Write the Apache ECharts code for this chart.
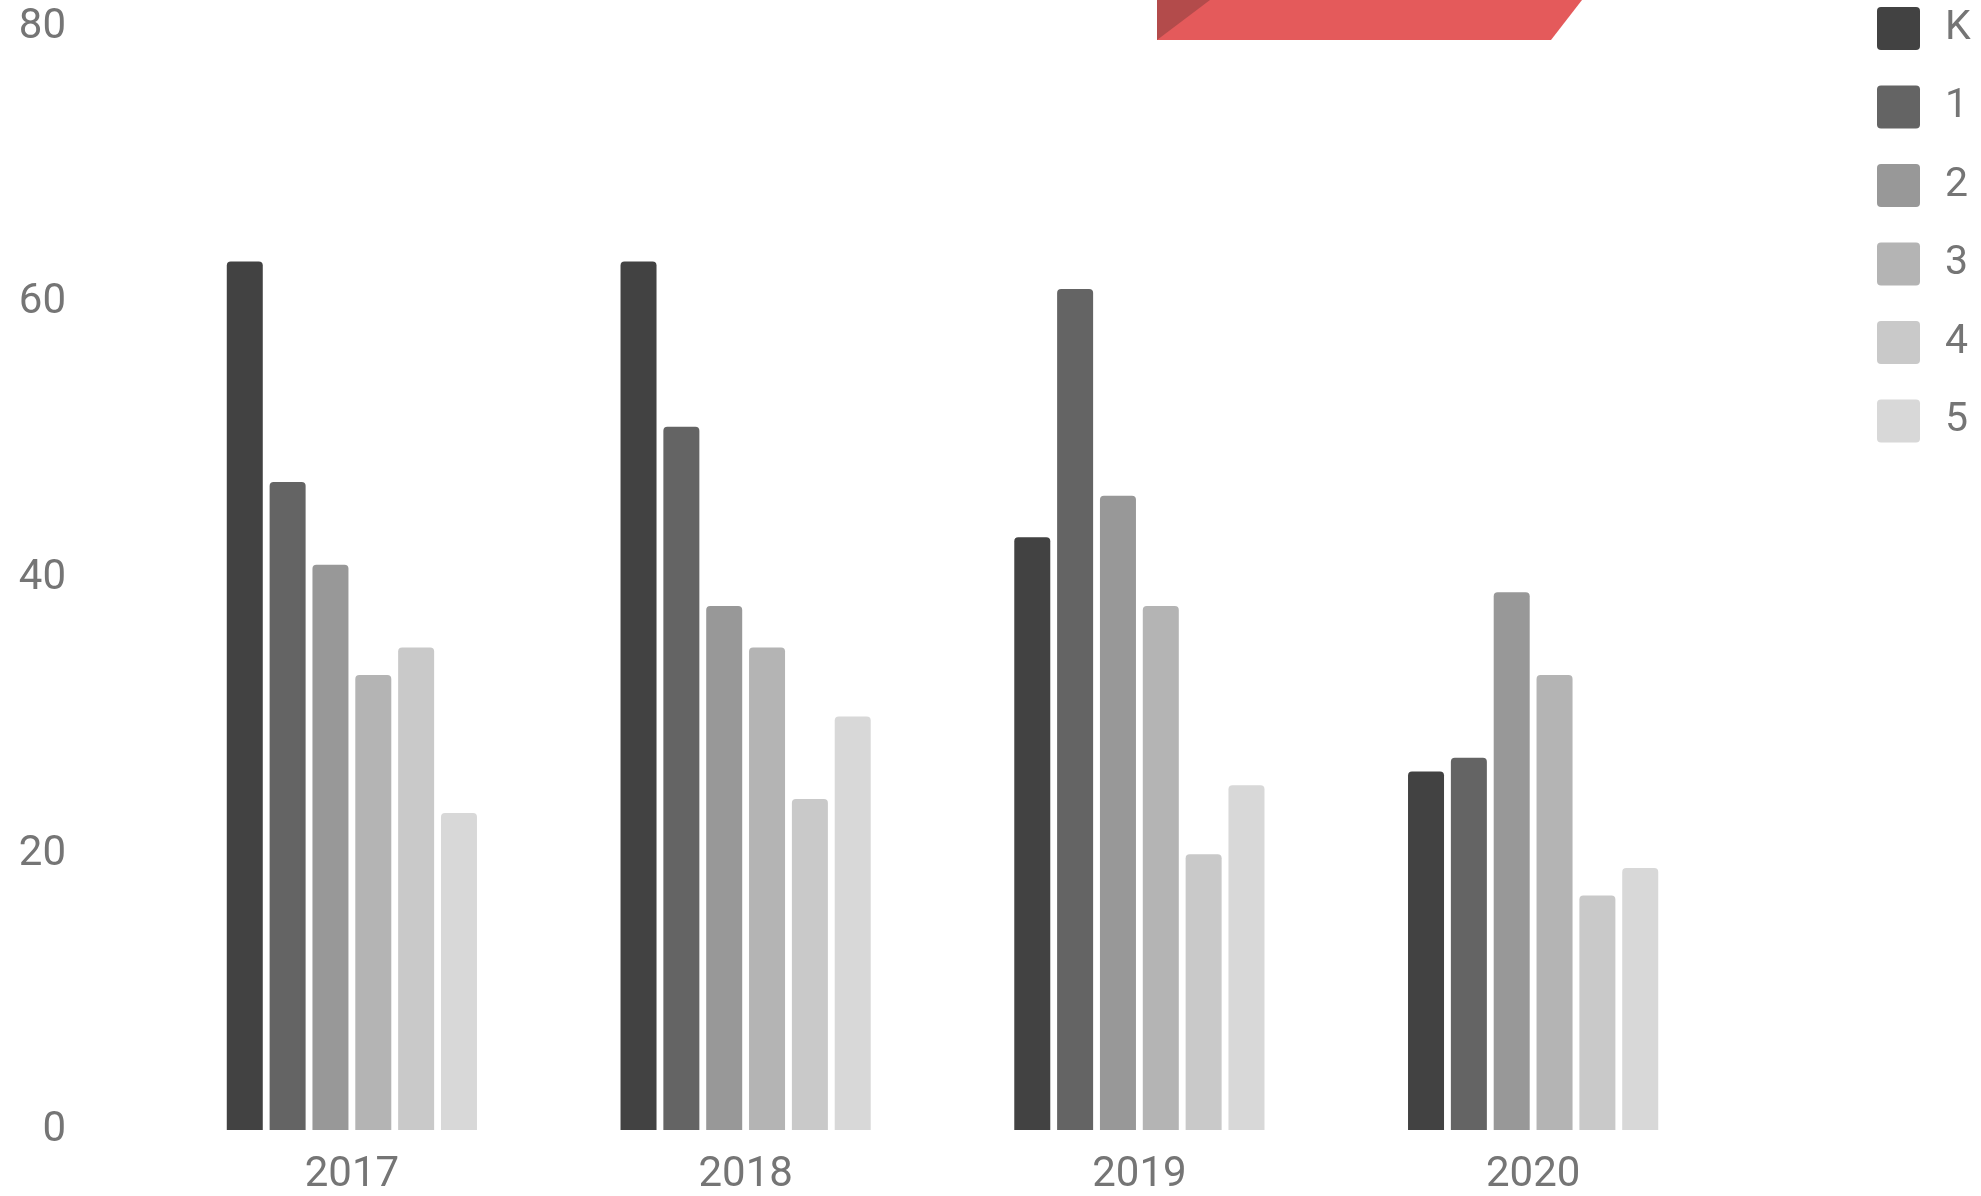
<!DOCTYPE html>
<html>
<head>
<meta charset="utf-8">
<style>
  html, body { margin: 0; padding: 0; background: #ffffff; }
  #chart { width: 1981px; height: 1196px; }
</style>
<script src="https://cdn.jsdelivr.net/npm/echarts@6/dist/echarts.min.js"></script>
</head>
<body>
<div id="chart"></div>
<script>
const categories = ['2017', '2018', '2019', '2020'];
const seriesNames = ['K', '1', '2', '3', '4', '5'];
const gradeK = [63, 63, 43, 26];
const grade1 = [47, 51, 61, 27];
const grade2 = [41, 38, 46, 39];
const grade3 = [33, 35, 38, 33];
const grade4 = [35, 24, 20, 17];
const grade5 = [23, 30, 25, 19];
const yTicks = [0, 20, 40, 60, 80];

const seriesValues = [gradeK, grade1, grade2, grade3, grade4, grade5];
const colors = ['#424242', '#646464', '#989898', '#b4b4b4', '#c9c9c9', '#d8d8d8'];

const chart = echarts.init(document.getElementById('chart'), null, { renderer: 'canvas' });

const roundSquare = 'path://M4,0 H39 A4,4 0 0 1 43,4 V39 A4,4 0 0 1 39,43 H4 A4,4 0 0 1 0,39 V4 A4,4 0 0 1 4,0 Z';

const option = {
  animation: false,
  backgroundColor: '#ffffff',
  color: colors,
  textStyle: { fontFamily: 'Roboto' },
  grid: { left: 155, right: 251, top: 27, bottom: 65, containLabel: false },
  legend: {
    data: seriesNames,
    orient: 'vertical',
    left: 1877,
    top: 7,
    padding: 0,
    itemWidth: 43,
    itemHeight: 43,
    itemGap: 35.5,
    icon: roundSquare,
    textStyle: { fontSize: 41, color: '#757575', padding: [2, 0, 0, 20], lineHeight: 41, fontFamily: 'Roboto' }
  },
  xAxis: {
    type: 'category',
    data: categories,
    axisLine: { show: false },
    axisTick: { show: false },
    splitLine: { show: false },
    axisLabel: { fontSize: 42, color: '#757575', margin: 24, fontFamily: 'Roboto' }
  },
  yAxis: {
    type: 'value',
    min: yTicks[0],
    max: yTicks[yTicks.length - 1],
    interval: yTicks[1] - yTicks[0],
    axisLine: { show: false },
    axisTick: { show: false },
    splitLine: { show: false },
    axisLabel: { fontSize: 42, color: '#757575', margin: 89, padding: [12, 0, 0, 0], fontFamily: 'Roboto' }
  },
  series: seriesNames.map((name, i) => ({
    name: name,
    type: 'bar',
    data: seriesValues[i],
    barWidth: 36,
    barGap: '19%',
    itemStyle: { color: colors[i], borderRadius: [4, 4, 0, 0] }
  })),
  graphic: [
    {
      type: 'polygon',
      shape: { points: [[1157, 0], [1582, 0], [1551, 40], [1157, 40]] },
      style: { fill: '#e45a5b' },
      z: 10
    },
    {
      type: 'polygon',
      shape: { points: [[1157, 0], [1210, 0], [1157, 40]] },
      style: { fill: '#b34b4b' },
      z: 11
    }
  ]
};

chart.setOption(option);
</script>
</body>
</html>
